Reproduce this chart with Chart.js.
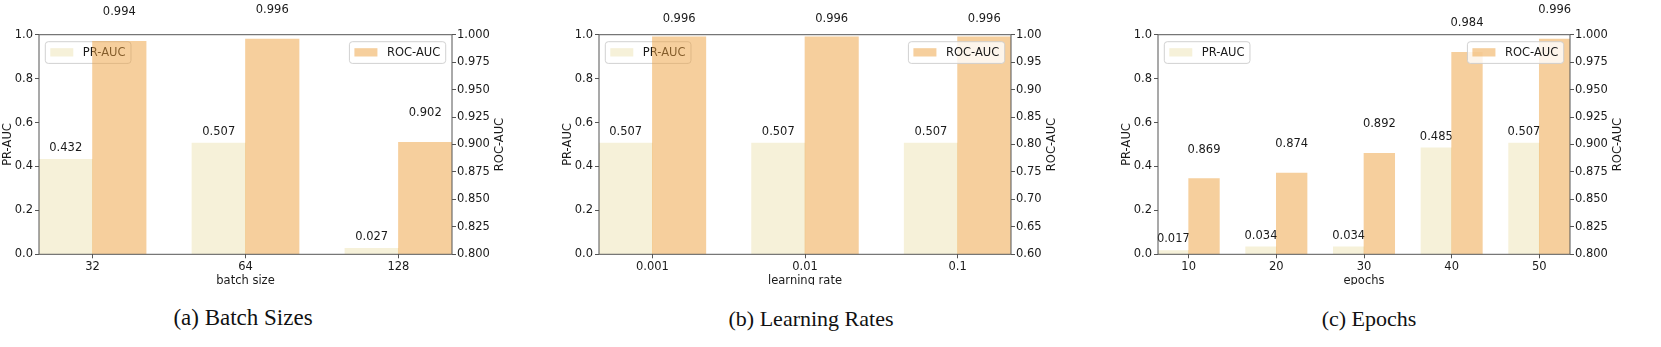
<!DOCTYPE html>
<html>
<head>
<meta charset="utf-8">
<script src="https://cdn.jsdelivr.net/npm/chart.js@4.4.1/dist/chart.umd.min.js"></script>
<style>
  body { margin: 0; background: #fff; }
  #page { position: relative; width: 1661px; height: 347px; overflow: hidden; background: #fff; }
  .panel { position: absolute; top: 0; overflow: hidden; }
  .panel canvas { display: block; }
  .cap { position: absolute; font-family: "Liberation Serif", "Times New Roman", serif; font-size: 22px;
         line-height: 22px; color: #111; white-space: nowrap; transform: translateX(-50%); }
</style>
</head>
<body>
<div id="page">
  <div class="panel" style="left:0px;width:545px;height:300px"><canvas id="chartA" width="545" height="300"></canvas></div>
  <div class="panel" style="left:560px;width:540px;height:285px"><canvas id="chartB" width="540" height="300"></canvas></div>
  <div class="panel" style="left:1119px;width:542px;height:285px"><canvas id="chartC" width="542" height="300"></canvas></div>
  <div class="cap" style="left:243px;top:307px;font-size:23px">(a) Batch Sizes</div>
  <div class="cap" style="left:811px;top:308px">(b) Learning Rates</div>
  <div class="cap" style="left:1369px;top:308px">(c) Epochs</div>
</div>
<script>
// values
const batchSizes = ["32", "64", "128"];
const batchPR = [0.432, 0.507, 0.027];
const batchROC = [0.994, 0.996, 0.902];

const learningRates = ["0.001", "0.01", "0.1"];
const lrPR = [0.507, 0.507, 0.507];
const lrROC = [0.996, 0.996, 0.996];

const epochs = ["10", "20", "30", "40", "50"];
const epochPR = [0.017, 0.034, 0.034, 0.485, 0.507];
const epochROC = [0.869, 0.874, 0.892, 0.984, 0.996];

// styling
const PR_COLOR = "rgb(246, 241, 217)";
const ROC_COLOR = "rgba(237, 159, 60, 0.5)";
const INK = "#1a1a1a";
const SPINE = "#555";
const FONT = "'DejaVu Sans', sans-serif";
const FONT_SIZE = 11.5;
const BAR_W = 0.35;
const PLOT_TOP = 34.7;
const PLOT_BOTTOM = 254.3;
const LEFT_W = 39;

Chart.defaults.font.family = FONT;
Chart.defaults.font.size = FONT_SIZE;
Chart.defaults.color = INK;

function drawValue(ctx, text, x, y) {
  ctx.save();
  ctx.font = FONT_SIZE + "px " + FONT;
  ctx.fillStyle = INK;
  ctx.textAlign = "center";
  ctx.textBaseline = "middle";
  ctx.fillText(text, x, y);
  ctx.restore();
}

function roundedRect(ctx, x, y, w, h, r) {
  ctx.beginPath();
  ctx.moveTo(x + r, y);
  ctx.arcTo(x + w, y, x + w, y + h, r);
  ctx.arcTo(x + w, y + h, x, y + h, r);
  ctx.arcTo(x, y + h, x, y, r);
  ctx.arcTo(x, y, x + w, y, r);
  ctx.closePath();
}

// matplotlib-like legend box in a corner of the plot
function drawLegend(ctx, area, label, color, side) {
  ctx.save();
  ctx.font = FONT_SIZE + "px " + FONT;
  const tw = ctx.measureText(label).width;
  const w = 5 + 23 + 9.5 + tw + 5.5;
  const h = 21.7;
  const x = side === "left" ? area.left + 6.3 : area.right - 6.3 - w;
  const y = area.top + 7;
  roundedRect(ctx, x, y, w, h, 3);
  ctx.fillStyle = "rgba(255,255,255,0.8)";
  ctx.fill();
  ctx.strokeStyle = "rgba(204,204,204,0.9)";
  ctx.lineWidth = 1;
  ctx.stroke();
  ctx.fillStyle = color;
  ctx.fillRect(x + 5, y + 6.5, 23, 8.3);
  ctx.fillStyle = INK;
  ctx.textAlign = "left";
  ctx.textBaseline = "middle";
  ctx.fillText(label, x + 5 + 23 + 9.5, y + h / 2 + 0.5);
  ctx.restore();
}

function decorPlugin(p) {
  return {
    id: "decor",
    beforeDatasetDraw(chart, args) {
      if (args.index !== 1) return;
      // PR labels + legend sit under the ROC axes
      const ctx = chart.ctx;
      chart.getDatasetMeta(0).data.forEach((bar, i) => {
        drawValue(ctx, p.pr[i].toFixed(3), bar.x, bar.y - 11.2);
      });
      drawLegend(ctx, chart.chartArea, "PR-AUC", PR_COLOR, "left");
    },
    afterDatasetsDraw(chart) {
      const ctx = chart.ctx;
      const area = chart.chartArea;
      chart.getDatasetMeta(1).data.forEach((bar, i) => {
        drawValue(ctx, p.roc[i].toFixed(3), bar.x, bar.y - p.rocGap);
      });
      // spines
      ctx.save();
      ctx.strokeStyle = SPINE;
      ctx.lineWidth = 1;
      ctx.strokeRect(area.left, area.top, area.right - area.left, area.bottom - area.top);
      ctx.restore();
      drawLegend(ctx, area, "ROC-AUC", ROC_COLOR, "right");
      // right axis title, reading bottom to top like the left one
      ctx.save();
      ctx.font = FONT_SIZE + "px " + FONT;
      let maxW = 0;
      chart.scales.y2.ticks.forEach(t => { maxW = Math.max(maxW, ctx.measureText(t.label).width); });
      ctx.translate(area.right + 5 + maxW + 10, (area.top + area.bottom) / 2);
      ctx.rotate(-Math.PI / 2);
      ctx.fillStyle = INK;
      ctx.textAlign = "center";
      ctx.textBaseline = "middle";
      ctx.fillText("ROC-AUC", 0, 0);
      ctx.restore();
    }
  };
}

function makePanel(id, p) {
  const canvas = document.getElementById(id);
  const W = canvas.width;
  const H = canvas.height;
  const n = p.labels.length;
  const tickGrid = { drawOnChartArea: false, drawTicks: true, tickLength: 4, tickColor: SPINE, tickWidth: 1, offset: false };

  return new Chart(canvas.getContext("2d"), {
    type: "bar",
    data: {
      datasets: [
        {
          label: "PR-AUC",
          data: p.pr.map((v, i) => ({ x: i - BAR_W / 2, y: v })),
          backgroundColor: PR_COLOR,
          borderWidth: 0,
          yAxisID: "y",
          order: 1,
          grouped: false,
          barPercentage: 1,
          categoryPercentage: 1,
          base: 0,
          clip: 0
        },
        {
          label: "ROC-AUC",
          data: p.roc.map((v, i) => ({ x: i + BAR_W / 2, y: v })),
          backgroundColor: ROC_COLOR,
          borderWidth: 0,
          yAxisID: "y2",
          order: 0,
          grouped: false,
          barPercentage: 1,
          categoryPercentage: 1,
          base: p.rocMin,
          clip: 0
        }
      ]
    },
    options: {
      responsive: false,
      animation: false,
      layout: { padding: { top: PLOT_TOP, left: 0, right: 0, bottom: 0 } },
      plugins: { legend: { display: false }, tooltip: { enabled: false } },
      scales: {
        x: {
          type: "linear",
          offset: false,
          bounds: "data",
          min: -BAR_W,
          max: n - 1 + BAR_W,
          grid: tickGrid,
          border: { display: false },
          afterBuildTicks: s => { s.ticks = p.labels.map((_, i) => ({ value: i })); },
          afterFit: s => { s.height = H - PLOT_BOTTOM; },
          ticks: { padding: 2, maxRotation: 0, autoSkip: false, callback: v => p.labels[v] },
          title: { display: true, text: p.xTitle, padding: { top: 0, bottom: 12.4 } }
        },
        y: {
          position: "left",
          min: 0,
          max: 1,
          grid: tickGrid,
          border: { display: false },
          afterFit: s => { s.width = LEFT_W; },
          ticks: { stepSize: 0.2, padding: 2, callback: v => v.toFixed(1) },
          title: { display: true, text: "PR-AUC", padding: { top: 1.1, bottom: 0 } }
        },
        y2: {
          position: "right",
          min: p.rocMin,
          max: p.rocMax,
          grid: tickGrid,
          border: { display: false },
          afterFit: s => { s.width = W - LEFT_W - p.plotW; },
          ticks: { stepSize: p.rocStep, padding: 1, callback: v => v.toFixed(p.rocDigits) }
        }
      }
    },
    plugins: [decorPlugin(p)]
  });
}

makePanel("chartA", {
  labels: batchSizes, pr: batchPR, roc: batchROC, xTitle: "batch size",
  rocMin: 0.8, rocMax: 1.0, rocStep: 0.025, rocDigits: 3, rocGap: 29, plotW: 413
});
makePanel("chartB", {
  labels: learningRates, pr: lrPR, roc: lrROC, xTitle: "learning rate",
  rocMin: 0.6, rocMax: 1.0, rocStep: 0.05, rocDigits: 2, rocGap: 18, plotW: 412
});
makePanel("chartC", {
  labels: epochs, pr: epochPR, roc: epochROC, xTitle: "epochs",
  rocMin: 0.8, rocMax: 1.0, rocStep: 0.025, rocDigits: 3, rocGap: 29, plotW: 412
});
</script>
</body>
</html>
